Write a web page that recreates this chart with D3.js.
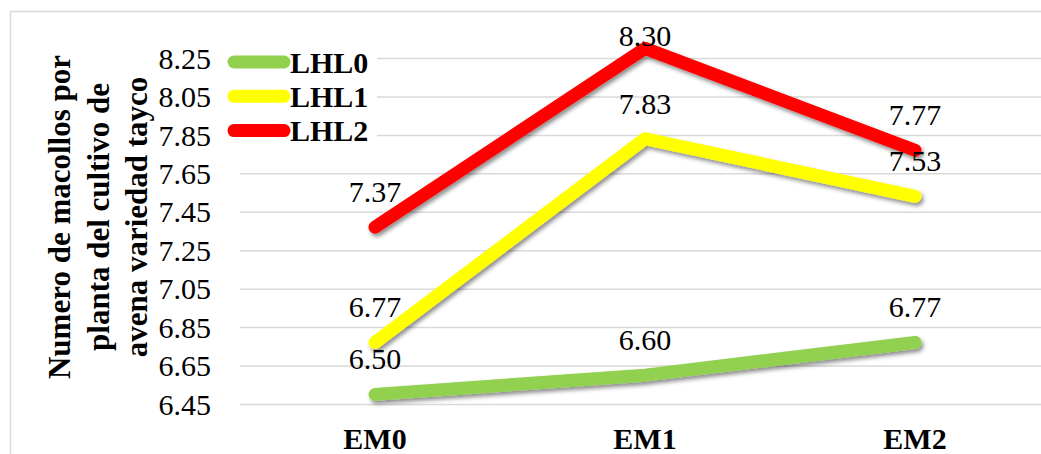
<!DOCTYPE html>
<html>
<head>
<meta charset="utf-8">
<script src="https://cdn.jsdelivr.net/npm/d3@7/dist/d3.min.js"></script>
<style>
  html, body { margin: 0; padding: 0; background: #fff; }
  svg { display: block; }
  svg text { font-family: "Liberation Serif", "Times New Roman", "DejaVu Serif", serif; }
</style>
</head>
<body>
<svg id="chart" width="1041" height="454"></svg>
<script>
// Tillers per oat plant (var. Tayco) by treatment
const categories = ["EM0", "EM1", "EM2"];
const seriesNames = ["LHL0", "LHL1", "LHL2"];
const LHL0 = [6.50, 6.60, 6.77];
const LHL1 = [6.77, 7.83, 7.53];
const LHL2 = [7.37, 8.30, 7.77];
const yTicks = [6.45, 6.65, 6.85, 7.05, 7.25, 7.45, 7.65, 7.85, 8.05, 8.25];
const titleLines = ["Numero de macollos por", "planta del cultivo de", "avena variedad tayco"];

const colors = ["#92D050", "#FFFF00", "#FF0000"];
const series = [LHL0, LHL1, LHL2].map((values, i) => ({ name: seriesNames[i], values, color: colors[i] }));

const svg = d3.select("#chart");

// chart frame
svg.append("rect")
  .attr("x", 10.5).attr("y", 11.5)
  .attr("width", 1060).attr("height", 480)
  .attr("fill", "#fff").attr("stroke", "#d9d9d9").attr("stroke-width", 1.5);

const plot = { left: 240, right: 1050, top: 58, bottom: 404 };

const x = d3.scaleBand().domain(categories).range([plot.left, plot.right]).padding(0);
const y = d3.scaleLinear().domain([6.45, 8.25]).range([plot.bottom, plot.top]);
const cx = c => x(c) + x.bandwidth() / 2;

// soft drop shadow under the lines
const defs = svg.append("defs");
const f = defs.append("filter").attr("id", "shadow")
  .attr("x", "-10%").attr("y", "-10%").attr("width", "120%").attr("height", "130%");
f.append("feDropShadow")
  .attr("dx", 2).attr("dy", 3).attr("stdDeviation", 2)
  .attr("flood-color", "#000").attr("flood-opacity", 0.45);

// horizontal gridlines
const grid = svg.append("g")
  .attr("transform", `translate(${plot.left},0)`)
  .call(d3.axisLeft(y).tickValues(yTicks).tickSize(-(plot.right - plot.left)).tickFormat(""));
grid.select(".domain").remove();
grid.selectAll("line").attr("stroke", "#d9d9d9").attr("stroke-width", 1.5);

// y tick labels
const yAxis = svg.append("g")
  .attr("transform", "translate(211,0)")
  .call(d3.axisLeft(y).tickValues(yTicks).tickSize(0).tickPadding(0).tickFormat(d3.format(".2f")));
yAxis.attr("font-family", null);
yAxis.select(".domain").remove();
yAxis.selectAll("text")
  .attr("font-size", 30).attr("fill", "#000").attr("dy", "0.34em");

// x category labels
const xAxis = svg.append("g")
  .attr("transform", "translate(0,449)")
  .call(d3.axisBottom(x).tickSize(0).tickPadding(0));
xAxis.attr("font-family", null);
xAxis.select(".domain").remove();
xAxis.selectAll("text")
  .attr("font-size", 30).attr("font-weight", "bold").attr("fill", "#000")
  .attr("dy", 0);

// y title, three lines rotated
const title = svg.append("text")
  .attr("transform", "translate(70,217) rotate(-90)")
  .attr("text-anchor", "middle")
  .attr("font-size", 31).attr("font-weight", "bold").attr("fill", "#000");
titleLines.forEach((t, i) => {
  title.append("tspan").attr("x", 0).attr("y", i * 38.5).text(t);
});

// series lines
const line = d3.line().x((d, i) => cx(categories[i])).y(d => y(d));
svg.append("g").attr("filter", "url(#shadow)")
  .selectAll("path").data(series).join("path")
  .attr("d", d => line(d.values))
  .attr("fill", "none")
  .attr("stroke", d => d.color)
  .attr("stroke-width", 13)
  .attr("stroke-linecap", "round")
  .attr("stroke-linejoin", "round");

// value labels above each point
const labels = svg.append("g")
  .attr("font-size", 30).attr("fill", "#000").attr("text-anchor", "middle");
series.forEach(s => {
  s.values.forEach((v, i) => {
    labels.append("text")
      .attr("x", cx(categories[i]))
      .attr("y", Math.max(y(v) - 25, 46))
      .text(v.toFixed(2));
  });
});

// legend
const legend = svg.append("g");
legend.append("rect")
  .attr("x", 222).attr("y", 42).attr("width", 155).attr("height", 108).attr("fill", "#fff");
series.forEach((s, i) => {
  const ly = 62 + i * 34.3;
  legend.append("line")
    .attr("x1", 234).attr("x2", 284).attr("y1", ly).attr("y2", ly)
    .attr("stroke", s.color).attr("stroke-width", 13).attr("stroke-linecap", "round");
  legend.append("text")
    .attr("x", 290).attr("y", ly + 10.5)
    .attr("font-size", 30).attr("font-weight", "bold").attr("fill", "#000")
    .text(s.name);
});
</script>
</body>
</html>
